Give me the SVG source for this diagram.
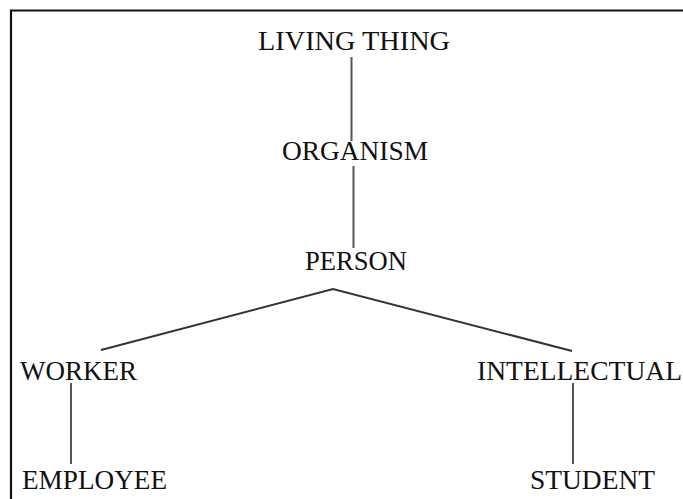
<svg xmlns="http://www.w3.org/2000/svg" width="683" height="499" viewBox="0 0 683 499">
<style>
.lbl{font-family:"Liberation Serif","Times New Roman",serif;font-size:27.5px;fill:#111}
.edge{stroke:#333;stroke-width:2;fill:none}
.vedge{stroke:#555;stroke-width:2;fill:none}
.frame{stroke:#111;stroke-width:2.2;fill:none}
</style>
<rect width="683" height="499" fill="#fff"/>
<path class="frame" d="M11 499 V10.5 H683"/>
<g id="connectors">
<line class="vedge" x1="351.5" y1="57" x2="351.5" y2="141"/>
<line class="vedge" x1="353.5" y1="166" x2="353.5" y2="248"/>
<polyline class="edge" points="101,350 333,289 572,351"/>
<line class="vedge" x1="71" y1="383" x2="71" y2="464"/>
<line class="vedge" x1="573" y1="383" x2="573" y2="464"/>
</g>
<g id="living-thing"><text class="lbl" x="258" y="50" textLength="192" lengthAdjust="spacingAndGlyphs">LIVING THING</text></g>
<g id="organism"><text class="lbl" x="282" y="160" textLength="146" lengthAdjust="spacingAndGlyphs">ORGANISM</text></g>
<g id="person"><text class="lbl" x="305" y="270" textLength="102" lengthAdjust="spacingAndGlyphs">PERSON</text></g>
<g id="worker"><text class="lbl" x="20" y="380" textLength="117" lengthAdjust="spacingAndGlyphs">WORKER</text></g>
<g id="intellectual"><text class="lbl" x="477" y="380" textLength="205" lengthAdjust="spacingAndGlyphs">INTELLECTUAL</text></g>
<g id="employee"><text class="lbl" x="22" y="489" textLength="145" lengthAdjust="spacingAndGlyphs">EMPLOYEE</text></g>
<g id="student"><text class="lbl" x="530" y="489" textLength="125" lengthAdjust="spacingAndGlyphs">STUDENT</text></g>
</svg>
